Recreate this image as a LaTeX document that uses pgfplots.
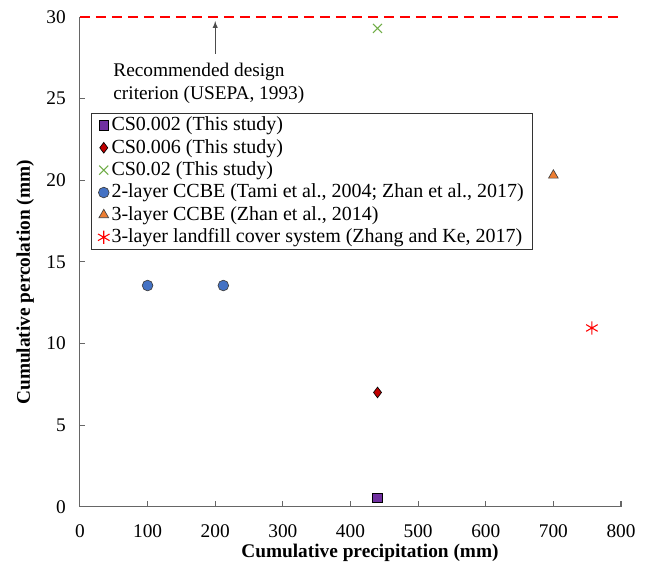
\documentclass[border=0pt]{standalone}
\usepackage{pgfplots}
\pgfplotsset{compat=1.18}
\usepackage{fontspec}
\setmainfont{Liberation Serif}
\definecolor{cpurple}{RGB}{112,48,160}
\definecolor{cdred}{RGB}{192,0,0}
\definecolor{cgreen}{RGB}{112,173,71}
\definecolor{cblue}{RGB}{68,114,196}
\definecolor{corange}{RGB}{237,125,49}
\begin{document}
\begin{tikzpicture}
\begin{axis}[
  name=ax,
  scale only axis,
  width=406pt, height=367.5pt,
  xmin=0, xmax=800, ymin=0, ymax=30,
  xtick={0,100,...,800}, ytick={0,5,...,30},
  axis lines*=left,
  axis line style={draw=black!60, line width=0.8pt},
  tick style={draw=black!60, line width=0.8pt},
  tick align=inside,
  major tick length=4pt,
  /pgf/number format/assume math mode=true,
  ticklabel style={font=\fontsize{14.5}{16}\selectfont, inner sep=0pt},
  xticklabel style={anchor=center, yshift=-18.5pt},
  yticklabel style={anchor=east, xshift=-10.5pt},
  xlabel={\textbf{Cumulative precipitation (mm)}},
  ylabel={\textbf{Cumulative percolation (mm)}},
  label style={font=\fontsize{14.5}{16}\selectfont},
  xlabel style={at={(axis description cs:0.536,-0.094)}, anchor=center},
  ylabel style={at={(axis description cs:-0.101,0.458)}, anchor=center, rotate=0},
  legend cell align=left,
  legend style={at={(0.0203,0.804)}, anchor=north west, draw=black!80, line width=0.6pt,
    font=\fontsize{15}{17}\selectfont, row sep=1.8pt, inner xsep=5pt, inner ysep=1.5pt,
    nodes={inner ysep=0pt, inner xsep=1.5pt, text height=11.5pt, text depth=3.5pt}},
  clip=false,
]
\addplot[only marks, mark=square*, mark size=3.6pt, mark options={fill=cpurple, draw=black, line width=0.5pt}]
  coordinates {(440,0.55)};
\addlegendentry{CS0.002 (This study)}
\addplot[only marks, mark=diamond*, mark size=4pt, mark options={fill=cdred, draw=black, line width=0.5pt}]
  coordinates {(440,7.0)};
\addlegendentry{CS0.006 (This study)}
\addplot[only marks, mark=x, mark size=4.8pt, mark options={draw=cgreen, line width=0.8pt}]
  coordinates {(440,29.3)};
\addlegendentry{CS0.02 (This study)}
\addplot[only marks, mark=*, mark size=4pt, mark options={fill=cblue, draw=black!75, line width=0.5pt}]
  coordinates {(100,13.55) (212,13.55)};
\addlegendentry{2-layer CCBE (Tami et al., 2004; Zhan et al., 2017)}
\addplot[only marks, mark=triangle*, mark size=4.2pt, mark options={fill=corange, draw=black!75, line width=0.5pt}]
  coordinates {(700,20.3)};
\addlegendentry{3-layer CCBE (Zhan et al., 2014)}
\addplot[only marks, mark=asterisk, mark size=5pt, mark options={draw=red, line width=0.8pt}]
  coordinates {(757,10.95)};
\addlegendentry{3-layer landfill cover system (Zhang and Ke, 2017)}
\addplot[red, line width=2pt, dash pattern=on 7.5pt off 4.5pt, forget plot]
  coordinates {(0,30) (800,30)};
\draw[-latex, black!70, line width=0.8pt] (axis cs:200,27.75) -- (axis cs:200,29.75);
\node[anchor=base west, align=left, font=\fontsize{14.5}{17.2}\selectfont, inner sep=0pt] at (axis cs:49,24.95) {Recommended design\\criterion (USEPA, 1993)};
\end{axis}
\path (ax.south west) ++(-60pt,-46.5pt);
\path (ax.north east) ++(18pt,12.75pt);
\end{tikzpicture}
\end{document}
